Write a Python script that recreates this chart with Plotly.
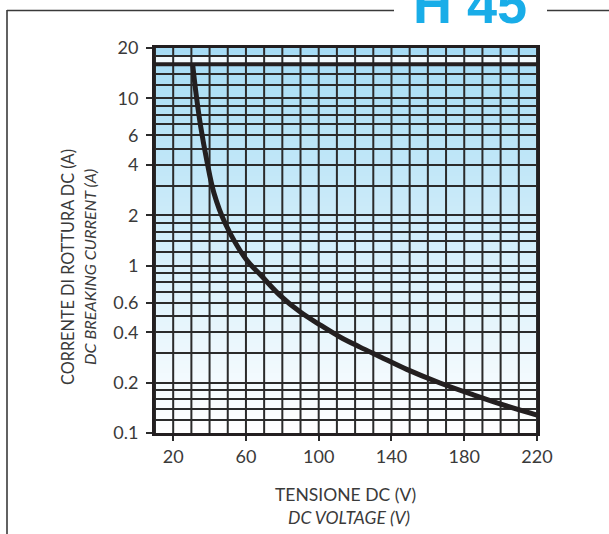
import plotly.graph_objects as go

# ---------------- data ----------------
voltage_v = [30.7, 32.5, 35.1, 38.4, 42.4, 48.5, 60.4, 68.5, 78.7, 89.7, 100.7, 111.7,
             122.7, 133.7, 148.4, 166.7, 185.0, 203.3, 220.0]
current_a = [16.0, 10.8, 6.8, 4.3, 2.72, 1.80, 1.08, 0.87, 0.665, 0.53, 0.443, 0.375,
             0.326, 0.286, 0.240, 0.199, 0.169, 0.145, 0.128]
max_current = 16.0
band_top = 18.0

x_min, x_max = 10, 220
y_min, y_max = 0.1, 20
x_tickvals = [20, 60, 100, 140, 180, 220]
x_ticktext = ["20", "60", "100", "140", "180", "220"]
x_grid_vals = [10, 20, 30, 40, 50, 60, 70, 80, 90, 100, 110, 120, 130, 140, 150, 160,
               170, 180, 190, 200, 210, 220]
y_tickvals = [0.1, 0.2, 0.4, 0.6, 1, 2, 4, 6, 10, 20]
y_ticktext = ["0.1", "0.2", "0.4", "0.6", "1", "2", "4", "6", "10", "20"]
y_minor_vals = [0.12, 0.14, 0.16, 0.18, 0.3, 0.5, 0.7, 0.8, 0.9,
                1.2, 1.4, 1.6, 1.8, 3, 5, 7, 8, 9, 12, 14, 16, 18]

# ---------------- layout geometry ----------------
W, H = 609, 534
ML, MR, MT, MB = 155, 72, 48, 101
PW, PH = W - ML - MR, H - MT - MB


def px(xp):
    return (xp - ML) / PW


def py(yp):
    return (H - MB - yp) / PH


GRID = "#2b2b2b"
TXT = "#3a3a3a"
FONT = "Lato, 'Open Sans', sans-serif"

fig = go.Figure()

# vertical grid lines (every 10 V)
gx, gy = [], []
for v in x_grid_vals:
    gx += [v, v, None]
    gy += [y_min, y_max, None]
fig.add_trace(go.Scatter(x=gx, y=gy, mode="lines", line=dict(color=GRID, width=2),
                         hoverinfo="skip", showlegend=False))

# 16 A limit line
fig.add_trace(go.Scatter(x=[x_min, x_max], y=[max_current, max_current], mode="lines",
                         line=dict(color="#231f20", width=4), hoverinfo="skip",
                         showlegend=False))
# breaking current curve
fig.add_trace(go.Scatter(x=voltage_v, y=current_a, mode="lines",
                         line=dict(color="#231f20", width=5, shape="spline", smoothing=1.0),
                         showlegend=False))

shapes = []
# vertical gradient background of the plot area
N = 90
top_rgb = (166, 220, 245)
bot_rgb = (255, 255, 255)
for i in range(N):
    f = (i + 0.5) / N
    c = tuple(round(bot_rgb[k] + (top_rgb[k] - bot_rgb[k]) * f) for k in range(3))
    shapes.append(dict(type="rect", xref="paper", yref="paper", x0=0, x1=1,
                       y0=i / N, y1=(i + 1) / N + 0.002, layer="below",
                       line=dict(width=0), fillcolor="rgb(%d,%d,%d)" % c))
# white band between 16 and 18 A
shapes.append(dict(type="rect", xref="paper", yref="y", x0=0, x1=1,
                   y0=max_current, y1=band_top, layer="below",
                   line=dict(width=0), fillcolor="#f2fafe"))

# outer frame lines
FR = "#3a3a3a"
shapes.append(dict(type="line", xref="paper", yref="paper",
                   x0=px(7), x1=px(7), y0=py(10), y1=py(540), line=dict(color=FR, width=1.6)))
shapes.append(dict(type="line", xref="paper", yref="paper",
                   x0=px(7), x1=px(394), y0=py(10.5), y1=py(10.5), line=dict(color=FR, width=1.6)))
shapes.append(dict(type="line", xref="paper", yref="paper",
                   x0=px(547), x1=px(612), y0=py(10.5), y1=py(10.5), line=dict(color=FR, width=1.6)))

annotations = [
    dict(text="<b>H 45</b>", xref="paper", yref="paper", x=px(470), y=py(24),
         xanchor="center", yanchor="bottom", yshift=-12, showarrow=False,
         font=dict(family="Liberation Sans, Arial, sans-serif", size=54, color="#19ade8")),
    dict(text="CORRENTE DI ROTTURA DC (A)", xref="paper", yref="paper", x=px(67), y=py(267),
         textangle=-90, showarrow=False, xanchor="center", yanchor="middle",
         font=dict(family=FONT, size=16.3, color=TXT)),
    dict(text="<i>DC BREAKING CURRENT (A)</i>", xref="paper", yref="paper", x=px(89), y=py(267),
         textangle=-90, showarrow=False, xanchor="center", yanchor="middle",
         font=dict(family=FONT, size=16.3, color=TXT)),
    dict(text="TENSIONE DC (V)", xref="paper", yref="paper", x=px(345), y=py(494),
         showarrow=False, xanchor="center", yanchor="middle",
         font=dict(family=FONT, size=17.5, color=TXT)),
    dict(text="<i>DC VOLTAGE (V)</i>", xref="paper", yref="paper", x=px(349), y=py(517),
         showarrow=False, xanchor="center", yanchor="middle",
         font=dict(family=FONT, size=17.5, color=TXT)),
]

fig.update_layout(
    width=W, height=H,
    margin=dict(l=ML, r=MR, t=MT, b=MB),
    paper_bgcolor="white", plot_bgcolor="white",
    showlegend=False,
    shapes=shapes, annotations=annotations,
    xaxis=dict(range=[x_min, x_max], tickmode="array", tickvals=x_tickvals, ticktext=x_ticktext,
               showgrid=False,
               ticks="outside", ticklen=5, tickwidth=2, tickcolor=GRID,
               showline=True, mirror=True, linecolor="#231f20", linewidth=3,
               zeroline=False,
               tickfont=dict(family=FONT, size=18, color=TXT)),
    yaxis=dict(type="log", range=[-1, 1.30103], tickmode="array", tickvals=y_tickvals,
               ticktext=y_ticktext,
               showgrid=True, gridcolor=GRID, gridwidth=2,
               ticks="outside", ticklen=6, tickwidth=2, tickcolor=GRID,
               minor=dict(tickmode="array", tickvals=y_minor_vals, showgrid=True,
                          gridcolor=GRID, gridwidth=2, ticks=""),
               showline=True, mirror=True, linecolor="#231f20", linewidth=3,
               zeroline=False, ticklabelstandoff=4,
               tickfont=dict(family=FONT, size=18, color=TXT)),
)

fig.write_html("out.html")
